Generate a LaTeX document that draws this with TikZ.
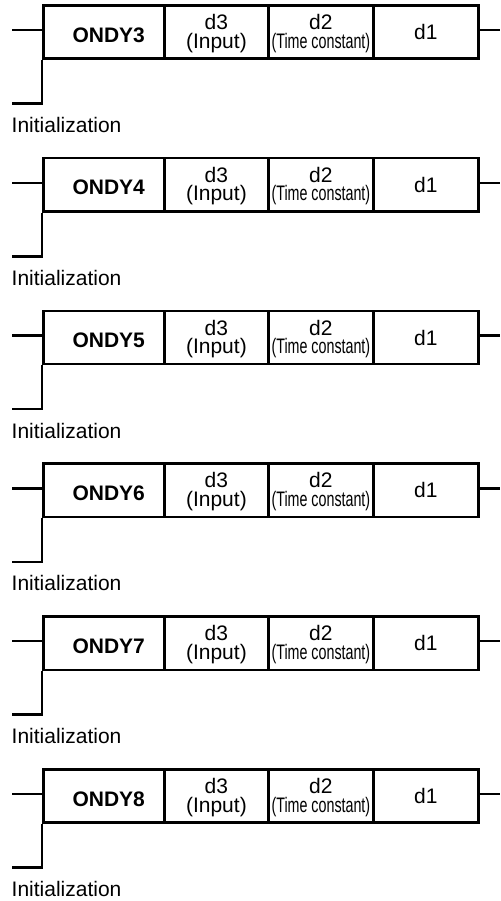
\documentclass[tikz,border=0pt]{standalone}
\usepackage{fontspec}
\setmainfont{Liberation Sans}
\usepackage{graphicx}
\begin{document}
\begin{tikzpicture}[x=0.5pt,y=-0.5pt,
  txt/.style={font=\fontsize{10.5}{9.3}\selectfont},
  cell/.style={draw, line width=1.25pt, rectangle, inner sep=0pt, anchor=north west,
    minimum height=26.65pt, txt, align=center},
  wire/.style={line width=1.25pt}]
\useasboundingbox (0,0) rectangle (500,901);
\foreach \i/\n in {0/3,1/4,2/5,3/6,4/7,5/8}{
  \pgfmathsetmacro\oy{4+\i*152.8}
  \node[cell, minimum width=60.5pt] (on\n) at (42,\oy) {};
  \node[font=\fontsize{10.5}{9.3}\selectfont\bfseries, inner sep=0pt] (lab\n)
    at ([shift={(5,3)}]on\n.center) {ONDY\n};
  \node[cell, minimum width=52.15pt] (dc\n) at (163,\oy) {\rule{0pt}{9pt}d3\\(Input)};
  \node[cell, minimum width=52.35pt] (db\n) at (267.3,\oy) {\rule{0pt}{9pt}d2\\\scalebox{0.68}[1]{(Time constant)}};
  \node[cell, minimum width=52.5pt] (da\n) at (372,\oy) {d1};
  \coordinate (in\n) at (12,\oy+26);
  \coordinate (out\n) at (500,\oy+26);
  \coordinate (ini\n) at (12,\oy+99.5);
  \draw[wire] (in\n) -- (in\n -| on\n.west);
  \draw[wire] (da\n.east |- out\n) -- (out\n);
  \draw[wire] (on\n.south west) -- (on\n.south west |- ini\n) -- (ini\n);
  \node[font=\fontsize{10.5}{12}\selectfont, anchor=base west, inner sep=0pt] (init\n)
    at (11.3,\oy+128.5) {Initialization};
}
\end{tikzpicture}
\end{document}
